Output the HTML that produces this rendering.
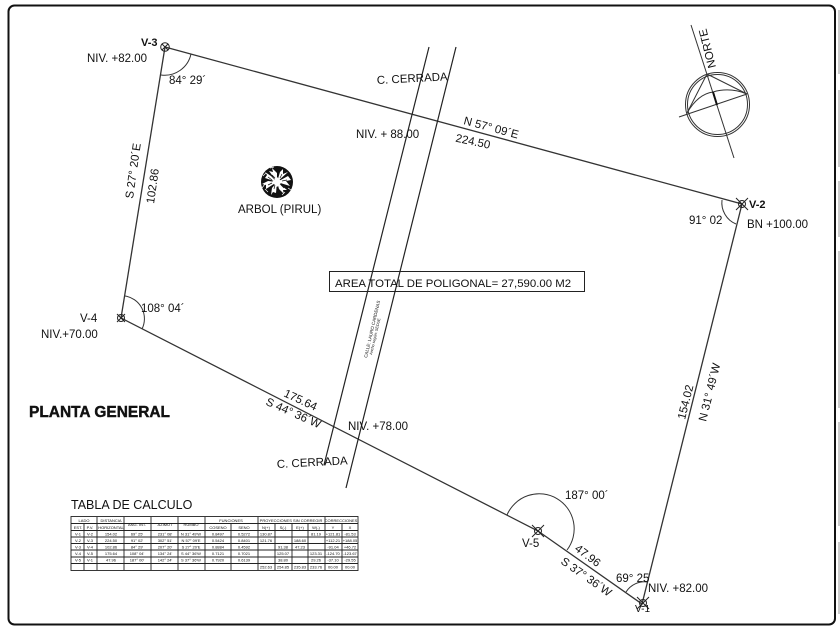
<!DOCTYPE html>
<html><head><meta charset="utf-8"><style>
html,body{margin:0;padding:0;background:#fff}
svg{display:block}
text{font-family:"Liberation Sans",sans-serif;fill:#111}
</style></head><body>
<svg width="840" height="630" viewBox="0 0 840 630" xmlns="http://www.w3.org/2000/svg">
<rect width="840" height="630" fill="#fff"/>
<rect x="8.5" y="5.5" width="826.5" height="619" rx="6" fill="none" stroke="#111" stroke-width="2"/>
<path d="M839 10V74M839 90V167M839 181V237M839 251V408M839 422V526M839 542V614" stroke="#999" stroke-width="1" fill="none"/>

<!-- polygon -->
<g fill="none" stroke="#333" stroke-width="1.3">
<path d="M165 47L742 204L642 604L538 531L121 318Z"/>
</g>
<!-- street -->
<g fill="none" stroke="#222" stroke-width="1.2">
<path d="M429 47L324 465M456 47L346 488"/>
</g>
<!-- arcs -->
<g fill="none" stroke="#333" stroke-width="1">
<path d="M191 54A27 27 0 0 1 161 75"/>
<path d="M722 200A23 23 0 0 0 736 224"/>
<path d="M125 296A23 23 0 0 1 142 329"/>
<path d="M507 515A35 35 0 1 1 567 550"/>
<path d="M626 592A22 22 0 0 1 647.5 582"/>
</g>
<!-- vertex markers -->
<g fill="none" stroke="#222" stroke-width="1">
<circle cx="165" cy="47" r="4.3"/><path d="M162 44L168 50M168 44L162 50"/>
<circle cx="742" cy="204" r="3.5"/><path d="M736 198L748 210M748 198L736 210"/>
<circle cx="121" cy="318" r="3.5"/><path d="M117 314L125 322M125 314L117 322"/>
<circle cx="538" cy="531" r="3.5"/><path d="M532 525L544 537M544 525L532 537"/>
<circle cx="643" cy="603" r="3.5"/><path d="M637 597L649 609M649 597L637 609"/>
</g>

<!-- labels -->
<g font-size="11.5">
<text x="141" y="46" font-weight="bold" font-size="11">V-3</text>
<text x="87" y="62">NIV. +82.00</text>
<text x="169" y="84">84° 29´</text>
<text transform="translate(377 84) rotate(-3)">C. CERRADA</text>
<text x="356" y="138">NIV. + 88.00</text>
<text transform="translate(463 124) rotate(15)">N 57° 09´E</text>
<text transform="translate(455 141.5) rotate(12)">224.50</text>
<text x="749" y="208" font-weight="bold" font-size="11">V-2</text>
<text x="747" y="228">BN +100.00</text>
<text x="689" y="224">91° 02</text>
<text transform="translate(133 199) rotate(-82)">S 27° 20´E</text>
<text transform="translate(154 204) rotate(-82)">102.86</text>
<text x="238" y="213">ARBOL (PIRUL)</text>
<text x="141" y="312">108° 04´</text>
<text x="80" y="322">V-4</text>
<text x="41" y="338">NIV.+70.00</text>
<text transform="translate(283 396) rotate(25)">175.64</text>
<text transform="translate(265 404.5) rotate(24)">S 44° 36´W</text>
<text x="348" y="430">NIV. +78.00</text>
<text transform="translate(277 468) rotate(-3)">C. CERRADA</text>
<text x="565" y="499">187° 00´</text>
<text x="522" y="547">V-5</text>
<text transform="translate(574 550) rotate(37)">47.96</text>
<text transform="translate(560 563) rotate(35)">S 37° 36´W</text>
<text x="616" y="582">69° 25</text>
<text x="648" y="592">NIV. +82.00</text>
<text x="635" y="612" font-size="10">V-1</text>
<text transform="translate(685 420) rotate(-76)">154.02</text>
<text transform="translate(706 422) rotate(-76)">N 31° 49´W</text>
</g>

<!-- area box -->
<rect x="329.5" y="271.5" width="255" height="20" fill="none" stroke="#222" stroke-width="1"/>
<text x="335" y="287" font-size="11.4">AREA TOTAL DE POLIGONAL= 27,590.00 M2</text>

<!-- street label -->
<g font-size="4.5" fill="#333">
<text transform="translate(367 358) rotate(-77)">CALLE: LAURO CARDENAS</text>
<text transform="translate(372 355) rotate(-77)" font-size="3.8">Ancho según: SEDUE</text>
</g>

<!-- title -->
<text x="29" y="417" font-size="15.5" font-weight="bold" stroke="#111" stroke-width=".4" textLength="141" lengthAdjust="spacingAndGlyphs">PLANTA GENERAL</text>
<text x="71" y="509" font-size="12.5">TABLA DE CALCULO</text>

<!-- tree -->
<circle cx="277" cy="182" r="16" fill="#111"/>
<g fill="#fff">
<path d="M277 182L269 171L273 172L272 168L277 173Z"/>
<path d="M277 182L280 172L283 169L283 174L288 172Z"/>
<path d="M277 182L288 176L291 180L286 181L290 186Z"/>
<path d="M277 182L287 190L283 190L284 194L279 189Z"/>
<path d="M277 182L276 193L273 192L271 195L272 188Z"/>
<path d="M277 182L266 189L266 185L262 184L268 181Z"/>
<path d="M277 182L265 178L267 175L265 172L271 176Z"/>
</g>
<g stroke="#fff" stroke-width=".7" fill="none">
<path d="M265 184L262 188M268 192L265 189M282 195L285 192M291 190L288 188M290 172L287 169M274 167L270 168M263 176L266 173"/>
</g>
<g stroke="#111" stroke-width=".7" fill="none">
<path d="M272 175L275 178M282 174L280 178M287 180L282 181M284 188L281 185M274 189L275 185M268 185L272 183M268 177L272 180"/>
</g>
<path d="M277 177L282 182L277 187L272 182Z" fill="#fff"/>

<!-- north arrow -->
<g fill="none" stroke="#333" stroke-width="1">
<circle cx="717.5" cy="104.5" r="32"/>
<circle cx="717.5" cy="104.5" r="30"/>
<path d="M691 25L734 158"/>
<path d="M679 117L747 94"/>
<path d="M707 74L687 113M707 74L747 94"/>
<path d="M687 113Q698 94 713 92Q730 87 747 94"/>
<path d="M713 92L717 105" stroke="#111" stroke-width="2"/>
</g>
<text transform="translate(716 67) rotate(-104)" font-size="11.5">NORTE</text>

<!-- table -->
<g fill="none" stroke="#222" stroke-width=".9">
<rect x="71" y="516.5" width="287" height="54"/>
<path d="M71 523.5H358M71 530.5H358M71 537H358M71 543.5H358M71 550H358M71 557H358M71 563.5H358"/>
<path d="M84 523V570M97 517V570M124 517V570M151 517V570M178 517V570M205 517V570M231 523V570M258 517V570M275 523V570M292 523V570M308 523V570M325 517V570M342 523V570"/>
</g>
<g font-size="4" text-anchor="middle" fill="#222">
<text x="84" y="522">LADO</text><text x="111" y="522">DISTANCIA</text><text x="111" y="529">HORIZONTAL</text>
<text x="137" y="526">ANG. INT.</text><text x="165" y="526">AZIMUT</text><text x="191" y="526">RUMBO</text>
<text x="231" y="522">FUNCIONES</text><text x="291" y="522">PROYECCIONES SIN CORREGIR</text><text x="341" y="522">CORRECCIONES</text>
<text x="78" y="529">EST.</text><text x="90" y="529">P.V.</text><text x="218" y="529">COSENO</text><text x="244" y="529">SENO</text>
<text x="266" y="529">N(+)</text><text x="283" y="529">S(-)</text><text x="300" y="529">E(+)</text><text x="316" y="529">W(-)</text><text x="333" y="529">Y</text><text x="350" y="529">X</text>
<text x="78" y="535.5">V-1</text><text x="90" y="535.5">V-2</text><text x="111" y="535.5">154.02</text><text x="137" y="535.5">69° 25'</text><text x="165" y="535.5">231° 08'</text><text x="191" y="535.5">N 31° 49'W</text><text x="218" y="535.5">0.8497</text><text x="244" y="535.5">0.5272</text><text x="266" y="535.5">130.87</text><text x="316" y="535.5">81.19</text><text x="333" y="535.5">+121.81</text><text x="350" y="535.5">-81.53</text>
<text x="78" y="542">V-2</text><text x="90" y="542">V-3</text><text x="111" y="542">224.50</text><text x="137" y="542">91° 02'</text><text x="165" y="542">302° 51'</text><text x="191" y="542">N 57° 09'E</text><text x="218" y="542">0.5424</text><text x="244" y="542">0.8401</text><text x="266" y="542">121.76</text><text x="300" y="542">188.60</text><text x="333" y="542">+112.21</text><text x="350" y="542">+188.05</text>
<text x="78" y="548.5">V-3</text><text x="90" y="548.5">V-4</text><text x="111" y="548.5">102.86</text><text x="137" y="548.5">84° 29'</text><text x="165" y="548.5">207° 20'</text><text x="191" y="548.5">S 27° 20'E</text><text x="218" y="548.5">0.8884</text><text x="244" y="548.5">0.4592</text><text x="283" y="548.5">91.38</text><text x="300" y="548.5">47.23</text><text x="333" y="548.5">-91.04</text><text x="350" y="548.5">+46.72</text>
<text x="78" y="555">V-4</text><text x="90" y="555">V-5</text><text x="111" y="555">175.64</text><text x="137" y="555">108° 04'</text><text x="165" y="555">134° 24'</text><text x="191" y="555">S 44° 36'W</text><text x="218" y="555">0.7121</text><text x="244" y="555">0.7021</text><text x="283" y="555">125.07</text><text x="316" y="555">123.31</text><text x="333" y="555">-124.70</text><text x="350" y="555">-123.67</text>
<text x="78" y="561.5">V-5</text><text x="90" y="561.5">V-1</text><text x="111" y="561.5">47.96</text><text x="137" y="561.5">187° 00'</text><text x="165" y="561.5">142° 24'</text><text x="191" y="561.5">S 37° 36'W</text><text x="218" y="561.5">0.7920</text><text x="244" y="561.5">0.6139</text><text x="283" y="561.5">38.80</text><text x="316" y="561.5">29.26</text><text x="333" y="561.5">-37.10</text><text x="350" y="561.5">-29.55</text>
<text x="266" y="568.5">252.63</text><text x="283" y="568.5">254.85</text><text x="300" y="568.5">235.83</text><text x="316" y="568.5">233.76</text><text x="333" y="568.5">00.00</text><text x="350" y="568.5">00.00</text>
</g>
</svg>
</body></html>
